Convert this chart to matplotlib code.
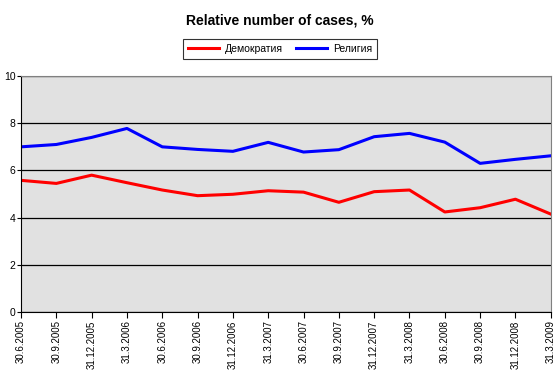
import matplotlib.pyplot as plt

plt.rcParams['font.family'] = ['Liberation Sans', 'DejaVu Sans']

dates = ["30.6.2005", "30.9.2005", "31.12.2005", "31.3.2006", "30.6.2006", "30.9.2006",
         "31.12.2006", "31.3.2007", "30.6.2007", "30.9.2007", "31.12.2007", "31.3.2008",
         "30.6.2008", "30.9.2008", "31.12.2008", "31.3.2009"]
demokratiya = [5.58, 5.45, 5.80, 5.48, 5.17, 4.93, 4.99, 5.14, 5.08, 4.65, 5.10, 5.17,
               4.24, 4.42, 4.78, 4.15]
religiya = [7.00, 7.10, 7.40, 7.78, 7.00, 6.89, 6.81, 7.19, 6.78, 6.88, 7.43, 7.57,
            7.20, 6.30, 6.47, 6.62]

fig = plt.figure(figsize=(5.6, 3.71), dpi=100)
ax = fig.add_axes([0.0375, 0.159, 0.946, 0.636])
ax.set_facecolor("#e1e1e1")

x = range(len(dates))
ax.plot(x, demokratiya, color="#ff0000", lw=2.2, label="Демократия")
ax.plot(x, religiya, color="#0000ff", lw=2.2, label="Религия")

ax.set_xlim(0, len(dates) - 1)
ax.set_ylim(0, 10)
ax.set_yticks([0, 2, 4, 6, 8, 10])
ax.set_xticks(list(x))
ax.set_xticklabels(dates, rotation=90, fontsize=7)
ax.tick_params(axis="y", labelsize=7.5, length=3, width=0.8, pad=1)
ax.tick_params(axis="x", length=4, width=0.8, pad=2)
ax.grid(axis="y", color="black", lw=0.9)
ax.set_axisbelow(True)
for s in ["top", "right"]:
    ax.spines[s].set_color("#808080")
    ax.spines[s].set_linewidth(0.8)

fig.suptitle("Relative number of cases, %", y=0.963, fontsize=10, fontweight="bold")
leg = fig.legend(loc="center", bbox_to_anchor=(0.5, 0.868), ncol=2, fontsize=7.5,
                 frameon=True, fancybox=False, edgecolor="black", handlelength=3.0,
                 columnspacing=1.3, handletextpad=0.5, borderpad=0.5)
leg.get_frame().set_linewidth(0.8)

fig.savefig("out.png", dpi=100)
